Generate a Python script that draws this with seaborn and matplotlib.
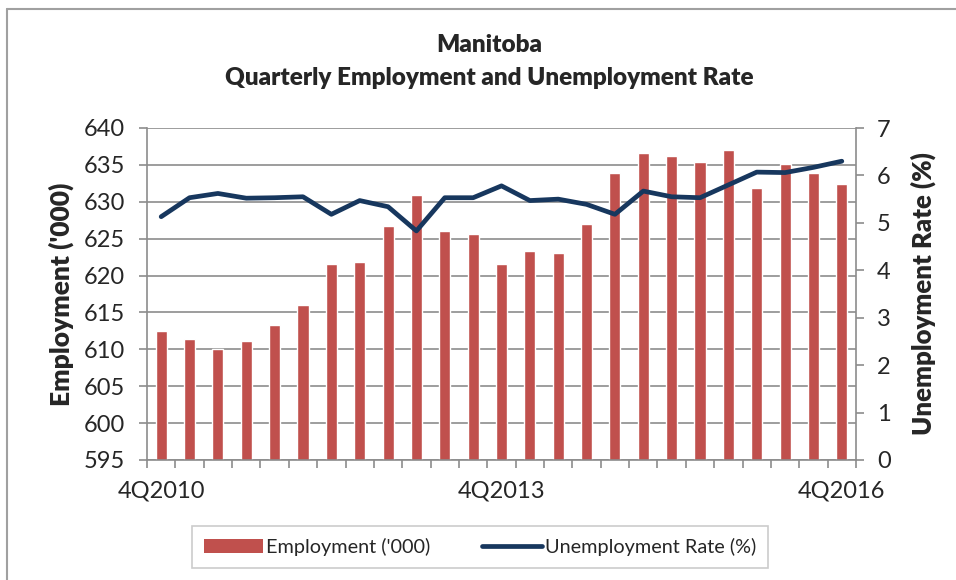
import numpy as np
import pandas as pd
import seaborn as sns
import matplotlib.pyplot as plt
from matplotlib.lines import Line2D
from matplotlib.patches import Patch

quarters = ['4Q2010', '1Q2011', '2Q2011', '3Q2011', '4Q2011', '1Q2012', '2Q2012',
            '3Q2012', '4Q2012', '1Q2013', '2Q2013', '3Q2013', '4Q2013', '1Q2014',
            '2Q2014', '3Q2014', '4Q2014', '1Q2015', '2Q2015', '3Q2015', '4Q2015',
            '1Q2016', '2Q2016', '3Q2016', '4Q2016']
employment = [612.5, 611.4, 610.0, 611.1, 613.3, 616.0, 621.5, 621.8, 626.7, 630.9,
              626.0, 625.6, 621.6, 623.3, 623.0, 627.0, 633.9, 636.6, 636.2, 635.4,
              637.0, 631.9, 635.1, 633.9, 632.4]
unemployment = [5.13, 5.53, 5.62, 5.52, 5.53, 5.55, 5.18, 5.47, 5.34, 4.83,
                5.53, 5.53, 5.78, 5.47, 5.50, 5.39, 5.18, 5.67, 5.55, 5.53,
                5.80, 6.07, 6.06, 6.17, 6.30]
shown_labels = ['4Q2010', '4Q2013', '4Q2016']

bar_color = '#C0504D'
line_color = '#17375E'
grid_color = '#8C8C8C'

sns.set_theme(style='white')
plt.rcParams['font.family'] = ['Lato', 'DejaVu Sans']

df = pd.DataFrame({'quarter': quarters, 'emp': employment, 'rate': unemployment})
df['pos'] = np.arange(len(df))

fig = plt.figure(figsize=(9.56, 5.8), dpi=100)
ax = fig.add_axes([147 / 956, 1 - 460 / 580, (856 - 147) / 956, (460 - 128) / 580])

sns.barplot(data=df, x='quarter', y='emp', color=bar_color, saturation=1,
            width=0.39, ax=ax, zorder=2)
ax.set_ylim(595, 640)
ax.set_yticks(np.arange(595, 641, 5))
ax.yaxis.grid(True, color=grid_color, linewidth=1.2, zorder=0)
ax.set_axisbelow(True)
ax.set_xlim(-0.5, len(quarters) - 0.5)

# tick marks on category boundaries, labels only every 12 quarters
ax.set_xticks(np.arange(-0.5, len(quarters), 1))
ax.set_xticklabels([])
idx = [quarters.index(q) for q in shown_labels]
ax.set_xticks(idx, minor=True)
ax.set_xticklabels(shown_labels, minor=True)
ax.tick_params(axis='x', which='major', length=6, width=1.2, color=grid_color, direction='out', bottom=True)
ax.tick_params(axis='x', which='minor', length=0, pad=15, labelsize=17)
ax.tick_params(axis='y', length=6, width=1.2, color=grid_color, direction='out', left=True, labelsize=17, pad=10)
ax.set_xlabel('')
ax.set_ylabel("Employment ('000)", fontsize=19, fontweight='heavy', labelpad=7)
for s in ['left', 'bottom']:
    ax.spines[s].set_color(grid_color)
    ax.spines[s].set_linewidth(1.2)
ax.spines['top'].set_visible(False)
ax.spines['right'].set_visible(False)

ax2 = ax.twinx()
sns.lineplot(data=df, x='pos', y='rate', color=line_color, linewidth=3.4, ax=ax2,
             solid_capstyle='round')
ax2.set_ylim(0, 7)
ax2.set_yticks(range(0, 8))
ax2.tick_params(axis='y', length=6, width=1.2, color=grid_color, direction='out', right=True, labelsize=17, pad=9)
ax2.set_ylabel('Unemployment Rate (%)', fontsize=18.5, fontweight='heavy', labelpad=14)
ax2.set_xlim(-0.5, len(quarters) - 0.5)
ax2.set_xlabel('')
for s in ['top', 'left', 'bottom']:
    ax2.spines[s].set_visible(False)
ax2.spines['right'].set_color(grid_color)
ax2.spines['right'].set_linewidth(1.2)

fig.text(0.512, 0.922, 'Manitoba', ha='center', va='center', fontsize=17.5, fontweight='heavy')
fig.text(0.512, 0.865, 'Quarterly Employment and Unemployment Rate', ha='center', va='center',
         fontsize=17.5, fontweight='heavy')

handles = [Patch(facecolor=bar_color, edgecolor='none', label="Employment ('000)"),
           Line2D([0], [0], color=line_color, linewidth=3.4, label='Unemployment Rate (%)')]
leg = fig.legend(handles=handles, loc='center', bbox_to_anchor=(480 / 956, 1 - 547 / 580),
                 ncol=2, frameon=True, fancybox=False, fontsize=14.3, handlelength=3.0,
                 borderpad=0.6, borderaxespad=0, columnspacing=2.6, handletextpad=0.15)
leg.get_frame().set_edgecolor('#BFBFBF')
leg.get_frame().set_linewidth(1.2)

# outer chart border (only top and left visible in the crop)
fig.add_artist(Line2D([7 / 956, 7 / 956], [0, 1 - 9 / 580], color='#A0A0A0', linewidth=1.5,
                      transform=fig.transFigure))
fig.add_artist(Line2D([7 / 956, 1], [1 - 9 / 580, 1 - 9 / 580], color='#A0A0A0', linewidth=1.5,
                      transform=fig.transFigure))

fig.savefig('out.png', dpi=100)
